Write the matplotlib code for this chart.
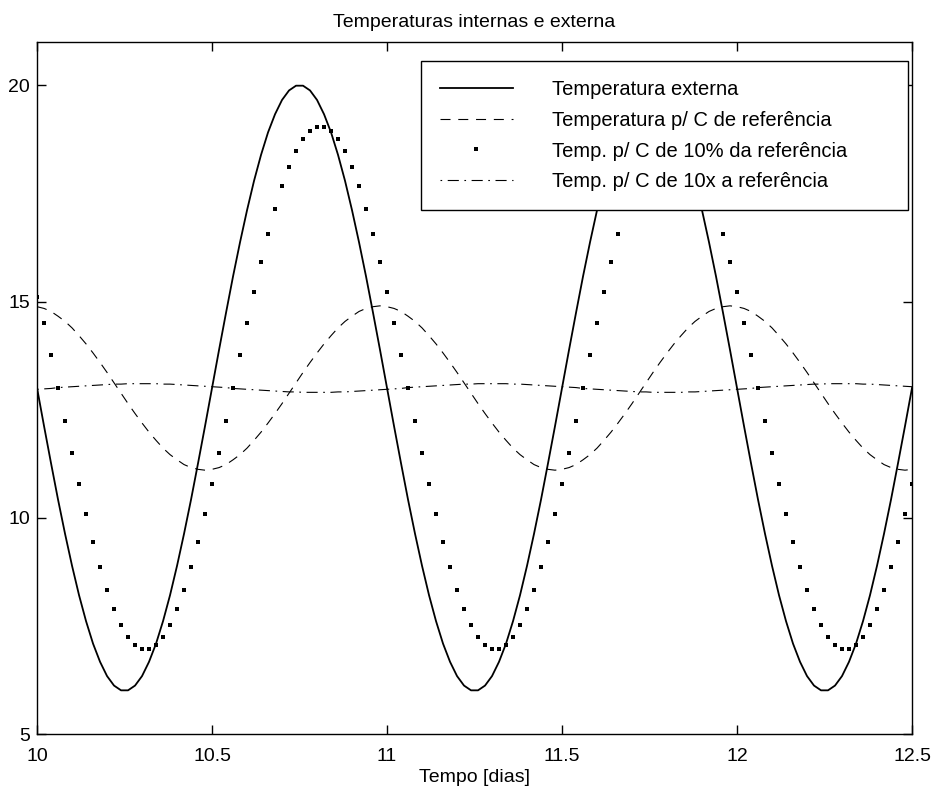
import numpy as np
import matplotlib
matplotlib.use("Agg")
import matplotlib.pyplot as plt

plt.rcParams['font.family'] = ['Liberation Sans', 'DejaVu Sans']

# eixo do tempo: amostras a cada 0.02 dia, de 10 a 12.5
t_inicio = 10.0
passo = 0.02
n_amostras = 126

# Temperatura externa
temp_externa = [
    13.00, 12.12, 11.26, 10.42, 9.63, 8.89, 8.21, 7.61, 7.09, 6.67,
    6.34, 6.12, 6.01, 6.01, 6.12, 6.34, 6.67, 7.09, 7.61, 8.21,
    8.89, 9.63, 10.42, 11.26, 12.12, 13.00, 13.88, 14.74, 15.58, 16.37,
    17.11, 17.79, 18.39, 18.91, 19.33, 19.66, 19.88, 19.99, 19.99, 19.88,
    19.66, 19.33, 18.91, 18.39, 17.79, 17.11, 16.37, 15.58, 14.74, 13.88,
    13.00, 12.12, 11.26, 10.42, 9.63, 8.89, 8.21, 7.61, 7.09, 6.67,
    6.34, 6.12, 6.01, 6.01, 6.12, 6.34, 6.67, 7.09, 7.61, 8.21,
    8.89, 9.63, 10.42, 11.26, 12.12, 13.00, 13.88, 14.74, 15.58, 16.37,
    17.11, 17.79, 18.39, 18.91, 19.33, 19.66, 19.88, 19.99, 19.99, 19.88,
    19.66, 19.33, 18.91, 18.39, 17.79, 17.11, 16.37, 15.58, 14.74, 13.88,
    13.00, 12.12, 11.26, 10.42, 9.63, 8.89, 8.21, 7.61, 7.09, 6.67,
    6.34, 6.12, 6.01, 6.01, 6.12, 6.34, 6.67, 7.09, 7.61, 8.21,
    8.89, 9.63, 10.42, 11.26, 12.12, 13.00,
]

# Temperatura interna, C de referencia
temp_ref = [
    14.88, 14.84, 14.77, 14.66, 14.54, 14.39, 14.21, 14.02, 13.81, 13.59,
    13.36, 13.12, 12.88, 12.64, 12.41, 12.19, 11.98, 11.79, 11.61, 11.46,
    11.34, 11.23, 11.16, 11.12, 11.10, 11.12, 11.16, 11.23, 11.34, 11.46,
    11.61, 11.79, 11.98, 12.19, 12.41, 12.64, 12.88, 13.12, 13.36, 13.59,
    13.81, 14.02, 14.21, 14.39, 14.54, 14.66, 14.77, 14.84, 14.88, 14.90,
    14.88, 14.84, 14.77, 14.66, 14.54, 14.39, 14.21, 14.02, 13.81, 13.59,
    13.36, 13.12, 12.88, 12.64, 12.41, 12.19, 11.98, 11.79, 11.61, 11.46,
    11.34, 11.23, 11.16, 11.12, 11.10, 11.12, 11.16, 11.23, 11.34, 11.46,
    11.61, 11.79, 11.98, 12.19, 12.41, 12.64, 12.88, 13.12, 13.36, 13.59,
    13.81, 14.02, 14.21, 14.39, 14.54, 14.66, 14.77, 14.84, 14.88, 14.90,
    14.88, 14.84, 14.77, 14.66, 14.54, 14.39, 14.21, 14.02, 13.81, 13.59,
    13.36, 13.12, 12.88, 12.64, 12.41, 12.19, 11.98, 11.79, 11.61, 11.46,
    11.34, 11.23, 11.16, 11.12, 11.10, 11.12,
]

# Temperatura interna, C de 10% da referencia
temp_10pct = [
    15.10, 14.50, 13.76, 13.00, 12.24, 11.50, 10.77, 10.09, 9.44, 8.86,
    8.34, 7.89, 7.53, 7.25, 7.06, 6.96, 6.96, 7.06, 7.25, 7.53,
    7.89, 8.34, 8.86, 9.44, 10.09, 10.77, 11.50, 12.24, 13.00, 13.76,
    14.50, 15.23, 15.91, 16.56, 17.14, 17.66, 18.11, 18.47, 18.75, 18.94,
    19.04, 19.04, 18.94, 18.75, 18.47, 18.11, 17.66, 17.14, 16.56, 15.91,
    15.23, 14.50, 13.76, 13.00, 12.24, 11.50, 10.77, 10.09, 9.44, 8.86,
    8.34, 7.89, 7.53, 7.25, 7.06, 6.96, 6.96, 7.06, 7.25, 7.53,
    7.89, 8.34, 8.86, 9.44, 10.09, 10.77, 11.50, 12.24, 13.00, 13.76,
    14.50, 15.23, 15.91, 16.56, 17.14, 17.66, 18.11, 18.47, 18.75, 18.94,
    19.04, 19.04, 18.94, 18.75, 18.47, 18.11, 17.66, 17.14, 16.56, 15.91,
    15.23, 14.50, 13.76, 13.00, 12.24, 11.50, 10.77, 10.09, 9.44, 8.86,
    8.34, 7.89, 7.53, 7.25, 7.06, 6.96, 6.96, 7.06, 7.25, 7.53,
    7.89, 8.34, 8.86, 9.44, 10.09, 10.77,
]

# Temperatura interna, C de 10x a referencia
temp_10x = [
    12.97, 12.98, 12.99, 13.01, 13.02, 13.03, 13.04, 13.05, 13.06, 13.07,
    13.08, 13.09, 13.09, 13.10, 13.10, 13.10, 13.10, 13.10, 13.09, 13.09,
    13.08, 13.07, 13.06, 13.05, 13.04, 13.03, 13.02, 13.01, 12.99, 12.98,
    12.97, 12.96, 12.95, 12.94, 12.93, 12.92, 12.91, 12.91, 12.90, 12.90,
    12.90, 12.90, 12.90, 12.91, 12.91, 12.92, 12.93, 12.94, 12.95, 12.96,
    12.97, 12.98, 12.99, 13.01, 13.02, 13.03, 13.04, 13.05, 13.06, 13.07,
    13.08, 13.09, 13.09, 13.10, 13.10, 13.10, 13.10, 13.10, 13.09, 13.09,
    13.08, 13.07, 13.06, 13.05, 13.04, 13.03, 13.02, 13.01, 12.99, 12.98,
    12.97, 12.96, 12.95, 12.94, 12.93, 12.92, 12.91, 12.91, 12.90, 12.90,
    12.90, 12.90, 12.90, 12.91, 12.91, 12.92, 12.93, 12.94, 12.95, 12.96,
    12.97, 12.98, 12.99, 13.01, 13.02, 13.03, 13.04, 13.05, 13.06, 13.07,
    13.08, 13.09, 13.09, 13.10, 13.10, 13.10, 13.10, 13.10, 13.09, 13.09,
    13.08, 13.07, 13.06, 13.05, 13.04, 13.03,
]

rotulos = [
    "Temperatura externa",
    "Temperatura p/ C de referência",
    "Temp. p/ C de 10% da referência",
    "Temp. p/ C de 10x a referência",
]
x_ticks = [10, 10.5, 11, 11.5, 12, 12.5]
x_ticklabels = ["10", "10.5", "11", "11.5", "12", "12.5"]
y_ticks = [5, 10, 15, 20]

t = t_inicio + passo * np.arange(n_amostras)

fig = plt.figure(figsize=(9.33, 7.88), dpi=100)
ax = fig.add_axes([0.0397, 0.0685, 0.9378, 0.8782])

ax.plot(t, temp_externa, color="black", lw=1.3, label=rotulos[0])
ax.plot(t, temp_ref, color="black", lw=0.8, linestyle=(0, (9, 7)), label=rotulos[1])
ax.plot(t, temp_10pct, color="black", linestyle="none", marker="s", ms=3.0, mew=0,
        label=rotulos[2])
ax.plot(t, temp_10x, color="black", lw=0.8, linestyle=(0, (1.5, 5, 10, 5)), label=rotulos[3])

ax.set_xlim(10, 12.5)
ax.set_ylim(5, 21)
ax.set_xticks(x_ticks)
ax.set_xticklabels(x_ticklabels)
ax.set_yticks(y_ticks)

ax.tick_params(direction="in", top=True, right=True, length=6.5, width=1,
               labelsize=14, colors="black")
ax.tick_params(axis="x", pad=10)
ax.tick_params(axis="y", pad=5)
for s in ax.spines.values():
    s.set_linewidth(1.0)

ax.set_title("Temperaturas internas e externa", fontsize=14, pad=11)
ax.set_xlabel("Tempo [dias]", fontsize=14, labelpad=3)

leg = ax.legend(loc="upper left", bbox_to_anchor=(0.4389, 0.5, 0.5566, 0.4725),
                mode="expand", borderaxespad=0, fontsize=14.5, fancybox=False,
                edgecolor="black", framealpha=1, handlelength=3.6,
                handletextpad=1.95, labelspacing=0.58, borderpad=0.95, numpoints=1)
leg.get_frame().set_linewidth(1.0)

fig.savefig("out.png", dpi=100, facecolor="white")
